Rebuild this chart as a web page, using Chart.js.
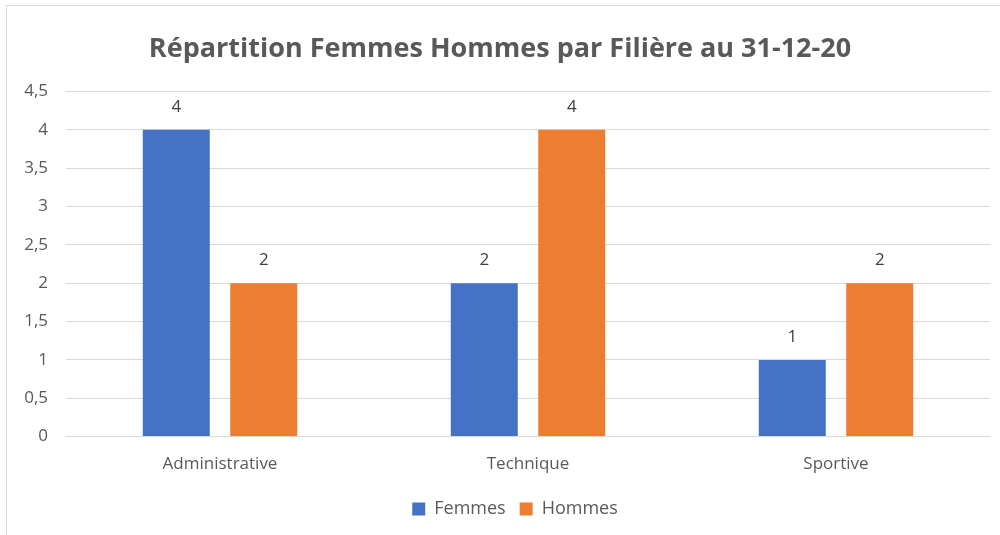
<!DOCTYPE html>
<html><head><meta charset="utf-8">
<script src="https://cdn.jsdelivr.net/npm/chart.js@4/dist/chart.umd.min.js"></script>
<style>html,body{margin:0;padding:0;background:#fff;}#wrap{width:1000px;height:535px;position:relative;}</style>
</head><body><div id="wrap"><canvas id="c" width="1000" height="535"></canvas></div>
<script>
const categories = ["Administrative", "Technique", "Sportive"];
const femmes = [4, 2, 1];
const hommes = [2, 4, 2];
const seriesNames = ["Femmes", "Hommes"];
const titleText = "Répartition Femmes Hommes par Filière au 31-12-20";
const FONT = "'Open Sans', sans-serif";
const GREY = "#595959";

const borderPlugin = {
  id: 'border',
  afterLayout(chart) {
    if (chart.legend) { chart.legend.left += 15; chart.legend.right += 15; }
  },
  beforeDraw(chart) {
    const ctx = chart.ctx;
    ctx.save();
    ctx.fillStyle = '#fff';
    ctx.fillRect(0, 0, chart.width, chart.height);
    ctx.strokeStyle = '#d9d9d9';
    ctx.lineWidth = 1;
    ctx.beginPath();
    ctx.moveTo(6.5, 540); ctx.lineTo(6.5, 5.5); ctx.lineTo(1010, 5.5);
    ctx.stroke();
    ctx.restore();
  }
};
const labelPlugin = {
  id: 'vals',
  afterDatasetsDraw(chart) {
    const ctx = chart.ctx;
    ctx.save();
    ctx.font = "17px " + FONT;
    ctx.fillStyle = "#404040";
    ctx.textAlign = 'center';
    ctx.textBaseline = 'middle';
    chart.data.datasets.forEach((ds, i) => {
      chart.getDatasetMeta(i).data.forEach((bar, j) => {
        ctx.fillText(String(ds.data[j]).replace('.', ','), bar.x, bar.y - 23);
      });
    });
    ctx.restore();
  }
};

new Chart(document.getElementById('c'), {
  type: 'bar',
  data: {
    labels: categories,
    datasets: [
      { label: seriesNames[0], data: femmes, backgroundColor: '#4472C4' },
      { label: seriesNames[1], data: hommes, backgroundColor: '#ED7D31' }
    ]
  },
  options: {
    responsive: false,
    animation: false,
    devicePixelRatio: 1,
    categoryPercentage: 0.568,
    barPercentage: 0.766,
    layout: { padding: { left: 10, right: 10, top: 33, bottom: 7 } },
    plugins: {
      title: { display: true, text: titleText, color: GREY, font: { family: FONT, size: 27, weight: 'bold' }, padding: { top: 0, bottom: 26 } },
      legend: { position: 'bottom', labels: { color: GREY, font: { family: FONT, size: 18 }, boxWidth: 13, boxHeight: 13, padding: 14 } },
      tooltip: { enabled: false }
    },
    scales: {
      x: {
        grid: { display: false },
        border: { display: false },
        afterFit(s) { s.height += 3; },
        ticks: { color: GREY, font: { family: FONT, size: 17 }, padding: 9 },
      },
      y: {
        min: 0, max: 4.5,
        grid: { color: '#d9d9d9', drawTicks: false },
        border: { display: false },
        afterFit(s) { s.width = 56; },
        ticks: { stepSize: 0.5, color: GREY, font: { family: FONT, size: 17 }, padding: 18,
          callback: v => String(v).replace('.', ',') }
      }
    }
  },
  plugins: [borderPlugin, labelPlugin]
});
</script></body></html>
